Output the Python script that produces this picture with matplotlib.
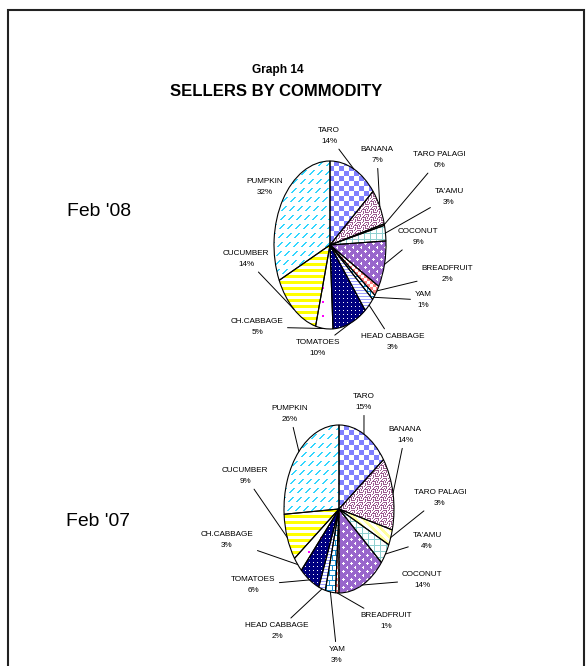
# Recreates "Graph 14 - Sellers by commodity" (two elliptical pies, Feb '08 and Feb '07)

import numpy as np
import matplotlib.pyplot as plt
from matplotlib import font_manager
from matplotlib.patches import Rectangle

# ---- data ----
commodities = ['TARO', 'BANANA', 'TARO PALAGI', "TA'AMU", 'COCONUT', 'BREADFRUIT',
               'YAM', 'HEAD CABBAGE', 'TOMATOES', 'CH.CABBAGE', 'CUCUMBER', 'PUMPKIN']
feb08 = [14, 7, 0.3, 3, 9, 2, 1, 3, 10, 5, 14, 32]
feb07 = [15, 14, 3, 4, 14, 1, 3, 2, 6, 3, 9, 26]
periods = ["Feb '08", "Feb '07"]

# ---- fonts ----
installed = {f.name for f in font_manager.fontManager.ttflist}
narrow = 'Liberation Sans Narrow' if 'Liberation Sans Narrow' in installed else 'Liberation Sans'
plt.rcParams['font.family'] = [narrow, 'DejaVu Sans']
is_narrow = narrow.endswith('Narrow')
shrink = 1.0 if is_narrow else 0.9

W, H = 587, 666
fig = plt.figure(figsize=(W / 100, H / 100), dpi=100)


def hexrgb(c):
    c = c.lstrip('#')
    return np.array([int(c[i:i + 2], 16) for i in (0, 2, 4)]) / 255.0


def tile(rows, xx, yy):
    t = np.array([[ch == '#' for ch in row] for row in rows])
    return t[yy % t.shape[0], xx % t.shape[1]]


banana_tile = ['####.#..',
               '...#.#.#',
               '.#.#...#',
               '.#.####.',
               '.#......',
               '#..####.',
               '..#...#.',
               '.#..#.#.']
coconut_tile = ['........',
                '...#....',
                '..###...',
                '...#....',
                '........',
                '.......#',
                '......##',
                '.......#']

# fill patterns, built in pixel units (x, y index arrays)
def pattern(name, xx, yy):
    white = hexrgb('#ffffff')
    img = np.ones(xx.shape + (3,))
    if name == 'TARO':
        m = ((xx // 5 + yy // 5) % 2) == 0
        fg, bg = hexrgb('#8080ff'), white
    elif name == 'BANANA':
        m = tile(banana_tile, xx, yy)
        fg, bg = hexrgb('#9a5a8e'), white
    elif name == 'TARO PALAGI':
        m = ((xx - yy) % 8) < 4
        fg, bg = hexrgb('#ffffa0'), white
    elif name == "TA'AMU":
        m = (xx % 6 == 0) | (yy % 6 == 0)
        fg, bg = hexrgb('#8fd0d0'), white
    elif name == 'COCONUT':
        m = tile(coconut_tile, xx, yy)
        fg, bg = white, hexrgb('#9966cc')
    elif name == 'BREADFRUIT':
        m = ((xx // 3 + yy // 3) % 2) == 0
        fg, bg = hexrgb('#ff8080'), white
    elif name == 'YAM':
        m = (yy % 5 == 0) | ((xx + (yy // 5 % 2) * 3) % 6 == 0)
        fg, bg = hexrgb('#1a8fd0'), white
    elif name == 'HEAD CABBAGE':
        m = yy % 3 == 0
        fg, bg = hexrgb('#a0a0ff'), white
    elif name == 'TOMATOES':
        m = (xx % 4 == 1) & (yy % 4 == 1)
        fg, bg = white, hexrgb('#000080')
    elif name == 'CH.CABBAGE':
        m = (xx % 12 < 2) & (yy % 14 < 2)
        fg, bg = hexrgb('#ff00ff'), white
    elif name == 'CUCUMBER':
        m = yy % 6 < 3
        fg, bg = hexrgb('#ffff00'), white
    else:  # PUMPKIN
        m = ((xx + yy) % 8 < 2) & (yy % 9 < 5)
        fg, bg = hexrgb('#33d6ff'), white
    img[m] = fg
    img[~m] = bg
    return img


# pie boxes in pixels (left, top, right, bottom) and label centres in pixels
boxes = [(274, 161, 386, 329), (284, 425, 394, 593)]
label_pos = [
    [(329, 136), (377, 155), (439, 160), (449, 197), (418, 237), (447, 274),
     (423, 300), (393, 342), (318, 348), (257, 327), (246, 259), (265, 187)],
    [(364, 402), (405, 435), (440, 498), (427, 541), (422, 580), (386, 621),
     (337, 655), (277, 631), (253, 585), (227, 540), (245, 476), (290, 414)],
]
no_line = [{'PUMPKIN'}, set()]
period_pos = [(99, 211), (98, 522)]

for k, values in enumerate([feb08, feb07]):
    l, t, r, b = boxes[k]
    ax = fig.add_axes([l / W, (H - b) / H, (r - l) / W, (b - t) / H])
    wedges, _ = ax.pie(values, startangle=90, counterclock=False, radius=1,
                       wedgeprops=dict(facecolor='none', edgecolor='black', linewidth=0.8))
    ax.set_aspect('auto')
    ax.set_xlim(-1, 1)
    ax.set_ylim(-1, 1)
    ax.axis('off')

    pw, ph = r - l, b - t
    yy, xx = np.mgrid[0:ph, 0:pw]
    for name, w in zip(commodities, wedges):
        w.set_zorder(3)
        im = ax.imshow(pattern(name, xx, yy), extent=(-1, 1, -1, 1), aspect='auto',
                       interpolation='nearest', zorder=1)
        im.set_clip_path(w)

    for i, (name, w) in enumerate(zip(commodities, wedges)):
        mid = np.deg2rad((w.theta1 + w.theta2) / 2)
        px, py = label_pos[k][i]
        txt = f'{name}\n{values[i]:.0f}%'
        arrow = None if name in no_line[k] else dict(arrowstyle='-', lw=0.7, color='black',
                                                     shrinkA=1, shrinkB=0)
        ax.annotate(txt, xy=(np.cos(mid), np.sin(mid)), xytext=(px, H - py),
                    textcoords='figure pixels', ha='center', va='center',
                    fontsize=6.5 * shrink, linespacing=1.9 if not is_narrow else 1.7,
                    arrowprops=arrow, annotation_clip=False)

    fig.text(period_pos[k][0] / W, 1 - period_pos[k][1] / H, periods[k],
             ha='center', va='center', fontsize=15.5 * shrink)

fig.text(278 / W, 1 - 70 / H, 'Graph 14', ha='center', va='center',
         fontsize=9.5 * shrink, fontweight='bold')
fig.text(276 / W, 1 - 92 / H, 'SELLERS BY COMMODITY', ha='center', va='center',
         fontsize=13.3 * shrink, fontweight='bold')

# outer frame (runs past the bottom of the image)
fig.add_artist(Rectangle((8 / W, -0.1), (584 - 8) / W, (H - 10) / H + 0.1,
                         transform=fig.transFigure, fill=False, lw=1.5, ec='#222222'))

fig.savefig('out.png', dpi=100)
